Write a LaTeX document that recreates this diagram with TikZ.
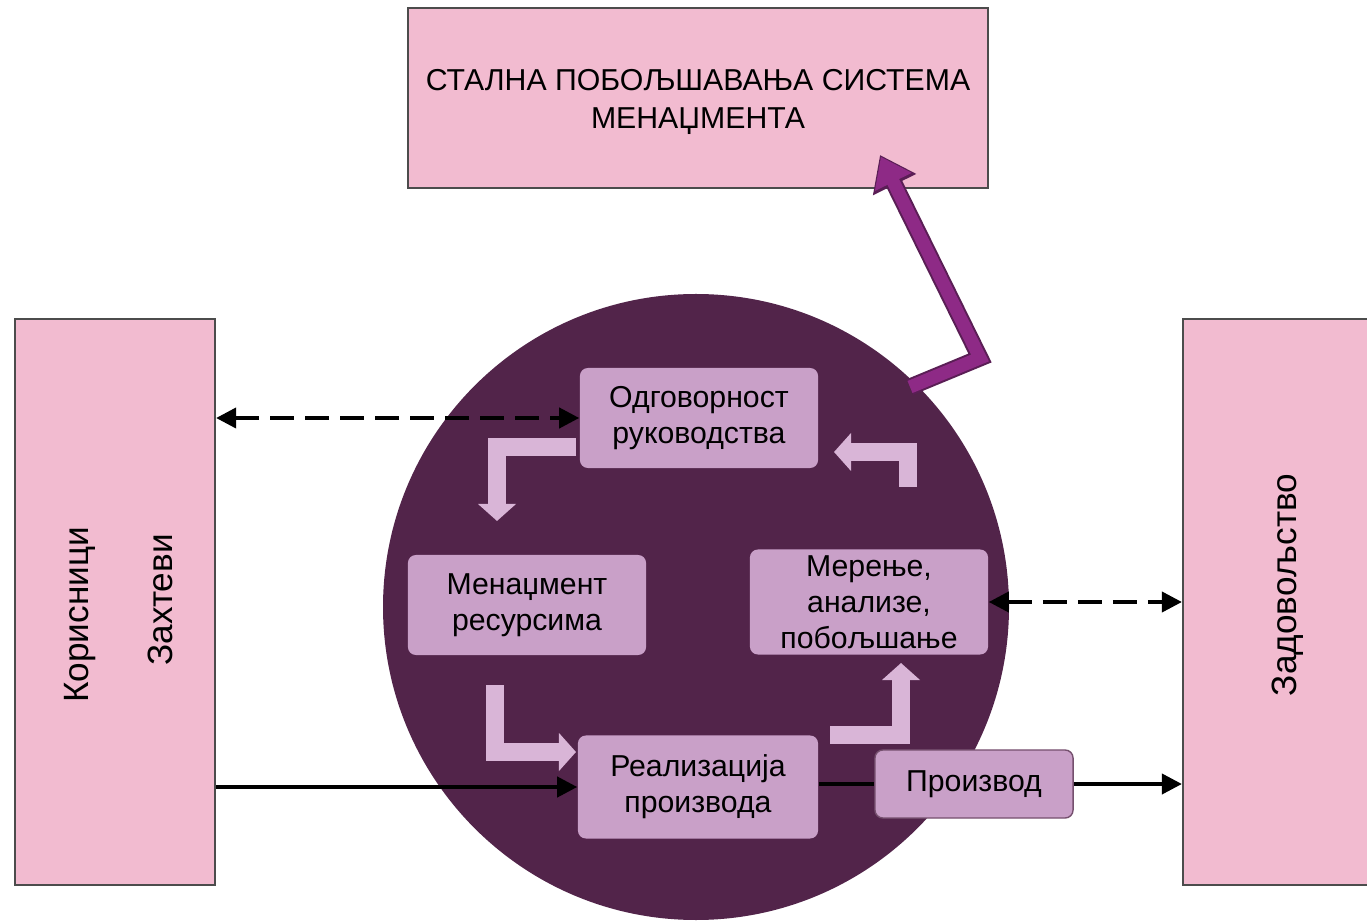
\documentclass[tikz,border=0pt]{standalone}
\usepackage{fontspec}
\setmainfont{Liberation Sans}
\usetikzlibrary{arrows.meta}
\definecolor{pinkbox}{HTML}{F2BBD0}
\definecolor{disc}{HTML}{52244A}
\definecolor{innerbox}{HTML}{C9A0C8}
\definecolor{lightarrow}{HTML}{D9B5D7}
\definecolor{bigarrow}{HTML}{8E2A86}
\definecolor{bigedge}{HTML}{5A1E55}
\tikzset{
  outerbox/.style={draw=black!70, fill=pinkbox, line width=0.6pt, inner sep=0pt},
  innerbox/.style={fill=innerbox, rounded corners=0.08cm, align=center, inner sep=0pt,
    font=\fontsize{8.6}{10.2}\selectfont},
  flowarrow/.style={draw=lightarrow, line width=0.18cm, line join=miter,
    -{Triangle[width=0.37cm,length=0.17cm]}},
  dasharrow/.style={draw=black, line width=1.1pt, dash pattern=on 0.24cm off 0.11cm,
    {Triangle[width=0.2cm,length=0.2cm]}-{Triangle[width=0.2cm,length=0.2cm]}},
  solidarrow/.style={draw=black, line width=1.1pt, -{Triangle[width=0.2cm,length=0.2cm]}}
}
\begin{document}
\begin{tikzpicture}[x=0.01cm, y=-0.01cm]
\useasboundingbox (0,0) rectangle (1367,922);

% outer boxes
\node[outerbox, minimum width=5.8cm, minimum height=1.8cm] (improve) at (698,98) {};
\node[align=center, font=\fontsize{8.6}{10.6}\selectfont] (improvetxt) at (698,102)
  {СТАЛНА ПОБОЉШАВАЊА СИСТЕМА\\МЕНАЏМЕНТА};
\node[outerbox, minimum width=2cm, minimum height=5.65cm] (users) at (115,602) {};
\node[rotate=90, font=\fontsize{10}{12}\selectfont] (userstxt) at (80,615) {Корисници};
\node[rotate=90, font=\fontsize{10}{12}\selectfont] (reqtxt) at (160,600) {Захтеви};
\node[outerbox, minimum width=1.94cm, minimum height=5.65cm] (satisf) at (1280,602) {};
\node[rotate=90, font=\fontsize{10}{12}\selectfont] (satistxt) at (1288,585) {Задовољство};

% disc
\fill[disc] (696,607) circle (313);

% inner boxes
\node[innerbox, minimum width=2.38cm, minimum height=1cm] (resp) at (699,418)
  {Одговорност\\руководства};
\node[innerbox, minimum width=2.38cm, minimum height=1cm] (resource) at (527,605)
  {Менаџмент\\ресурсима};
\node[innerbox, minimum width=2.38cm, minimum height=1.05cm] (measure) at (869,602)
  {Мерење,\\анализе,\\побољшање};
\node[innerbox, minimum width=2.4cm, minimum height=1.03cm] (realize) at (698,787)
  {Реализација\\производа};
\node[innerbox, draw=disc!80, minimum width=1.98cm, minimum height=0.68cm] (product) at (974,784)
  {Производ};

% cycle arrows
\coordinate (a1) at (576,447);
\coordinate (a2) at (495,685);
\coordinate (a3) at (830,735);
\coordinate (a4) at (908,487);
\draw[flowarrow] (a1) -- (497,447) -- (497,521);
\draw[flowarrow] (a2) -- (495,752) -- (576,752);
\draw[flowarrow] (a3) -- (901,735) -- (901,663);
\draw[flowarrow] (a4) -- (908,452) -- (834,452);

% improvement arrow
\coordinate (b1) at (910,387);
\coordinate (b2) at (980,358);
\coordinate (b3) at (880,155);
\draw[bigedge, line width=0.17cm, line join=miter,
  -{Triangle[width=0.46cm,length=0.33cm]}] (b1) -- (b2) -- (b3);
\draw[bigarrow, line width=0.13cm, line join=miter, shorten >=0.02cm,
  -{Triangle[width=0.39cm,length=0.28cm]}] (b1) -- (b2) -- (b3);

% links
\draw[dasharrow] (users.east |- resp) -- (resp.west);
\draw[dasharrow] (measure.east) -- (satisf.west |- measure);
\draw[solidarrow] (users.east |- realize) -- (realize.west);
\draw[black, line width=1.1pt] (realize.east |- product) -- (product.west);
\draw[solidarrow] (product.east) -- (satisf.west |- product);
\end{tikzpicture}
\end{document}
